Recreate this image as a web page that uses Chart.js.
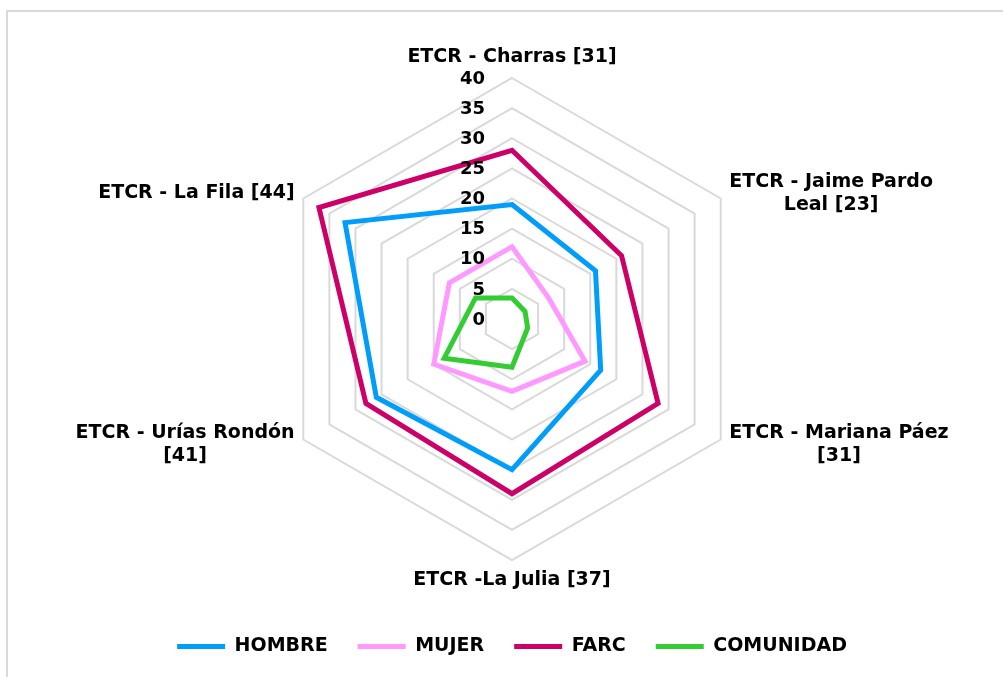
<!DOCTYPE html>
<html>
<head>
<meta charset="utf-8">
<script src="https://cdn.jsdelivr.net/npm/chart.js@4.4.1/dist/chart.umd.min.js"></script>
<style>
  html, body { margin: 0; padding: 0; background: #fff; overflow: hidden; }
  .marco { position: absolute; left: 6px; top: 10px; width: 1300px; height: 900px; border-left: 2px solid #d9d9d9; border-top: 2px solid #d9d9d9; }
  .grafica { position: absolute; left: 0; top: 0; width: 1003px; height: 677px; }
</style>
</head>
<body>
<div class="marco"></div>
<div class="grafica"><canvas id="myChart"></canvas></div>
<script>
const etiquetas = [
  ['ETCR - Charras [31]'],
  ['ETCR - Jaime Pardo', 'Leal [23]'],
  ['ETCR - Mariana Páez', '[31]'],
  ['ETCR -La Julia [37]'],
  ['ETCR - Urías Rondón', '[41]'],
  ['ETCR - La Fila [44]']
]
const hombre = [19, 16, 17, 25, 26, 32]
const mujer = [12, 7, 14, 12, 15, 12]
const farc = [28, 21, 28, 29, 28, 37]
const comunidad = [3.5, 2.5, 3, 8, 13, 7]
const marcas = [0, 5, 10, 15, 20, 25, 30, 35, 40]

const fuente = 'bold 19px "DejaVu Sans"'
const fuenteEje = 'bold 18px "DejaVu Sans"'

// numeros del eje, a la izquierda de la linea vertical
const numerosEje = {
  id: 'numerosEje',
  afterDatasetsDraw(chart) {
    const r = chart.scales.r
    const ctx = chart.ctx
    ctx.save()
    ctx.font = fuenteEje
    ctx.fillStyle = '#000'
    ctx.textAlign = 'right'
    ctx.textBaseline = 'middle'
    for (const v of marcas) {
      const y = r.yCenter - r.getDistanceFromCenterForValue(v)
      ctx.fillText(String(v), r.xCenter - 27, y + 1)
    }
    ctx.restore()
  }
}

// nombres de los ETCR, lineas centradas entre si
const nombresEtcr = {
  id: 'nombresEtcr',
  afterDatasetsDraw(chart) {
    const r = chart.scales.r
    const ctx = chart.ctx
    const alto = 23.5
    ctx.save()
    ctx.font = fuente
    ctx.fillStyle = '#000'
    ctx.textAlign = 'center'
    ctx.textBaseline = 'middle'
    etiquetas.forEach((lineas, i) => {
      const p = r.getPointPosition(i, r.drawingArea + 10)
      const ancho = Math.max(...lineas.map(t => ctx.measureText(t).width))
      let cx = p.x
      let cy = p.y - (lineas.length - 1) * alto / 2
      if (i === 0) cy = p.y - 11
      else if (i === 3) cy = p.y + 10
      else if (i < 3) cx = p.x + ancho / 2
      else cx = p.x - ancho / 2
      lineas.forEach((t, k) => ctx.fillText(t, cx, cy + k * alto))
    })
    ctx.restore()
  }
}

const $grafica = document.getElementById('myChart')

function serie(nombre, datos, color) {
  return {
    label: nombre,
    data: datos,
    borderColor: color,
    backgroundColor: color,
    borderWidth: 5,
    borderCapStyle: 'round',
    borderJoinStyle: 'miter',
    fill: false,
    pointRadius: 0,
    pointHoverRadius: 0
  }
}

const myChart = new Chart($grafica, {
  type: 'radar',
  data: {
    labels: etiquetas,
    datasets: [
      serie('HOMBRE', hombre, '#009EFA'),
      serie('MUJER', mujer, '#FF99FF'),
      serie('FARC', farc, '#CC0066'),
      serie('COMUNIDAD', comunidad, '#33CC33')
    ]
  },
  options: {
    responsive: true,
    maintainAspectRatio: false,
    animation: false,
    layout: { padding: { top: 78, left: 30, right: 9, bottom: 11 } },
    scales: {
      r: {
        min: 0,
        max: 40,
        ticks: { stepSize: 5, display: false },
        grid: { color: '#d9d9d9', lineWidth: 2 },
        angleLines: { display: false },
        pointLabels: { display: false }
      }
    },
    plugins: {
      tooltip: { enabled: false },
      legend: {
        position: 'bottom',
        title: { display: true, text: ' ', font: { size: 10 }, padding: { top: 34, bottom: 0 } },
        labels: {
          usePointStyle: true,
          pointStyle: 'line',
          pointStyleWidth: 48,
          padding: 30,
          color: '#000',
          font: { family: 'DejaVu Sans', size: 19, weight: 'bold' }
        }
      }
    }
  },
  plugins: [numerosEje, nombresEtcr]
})
</script>
</body>
</html>
